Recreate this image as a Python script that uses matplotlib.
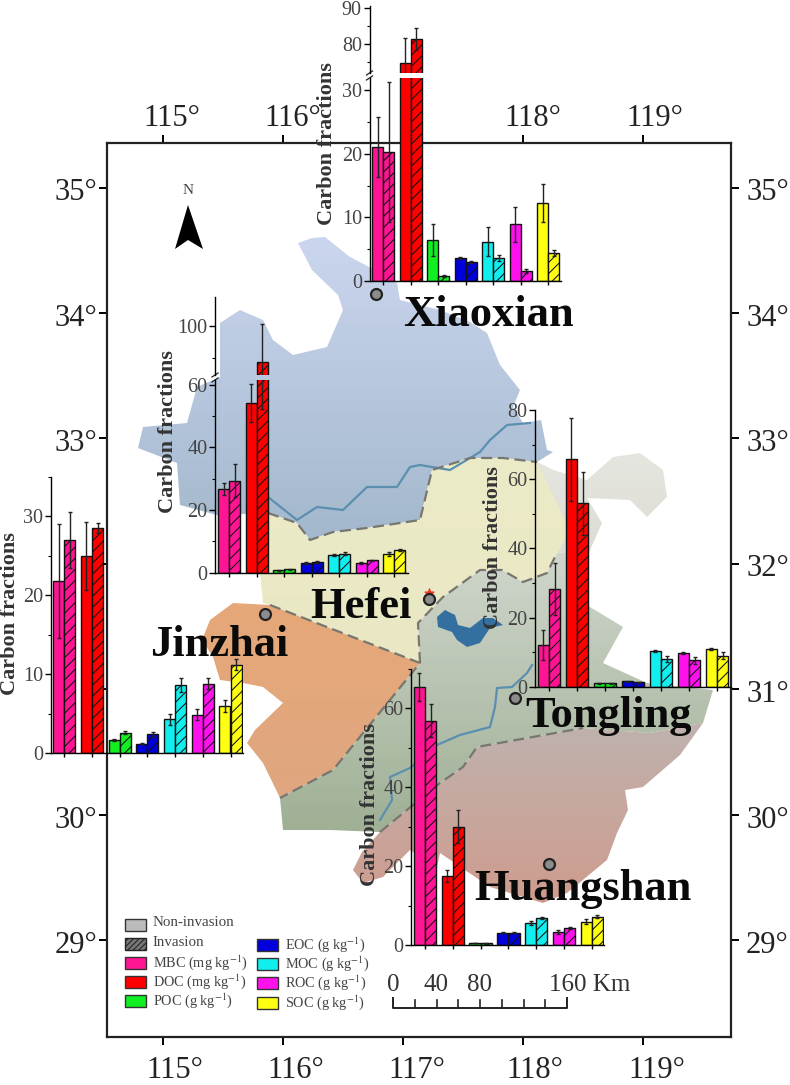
import numpy as np
import matplotlib
matplotlib.use("Agg")
import matplotlib.pyplot as plt
from matplotlib.patches import Polygon, Rectangle
from matplotlib.colors import LinearSegmentedColormap
from matplotlib.ticker import MultipleLocator

plt.rcParams['font.family'] = ['Liberation Serif', 'DejaVu Serif']
plt.rcParams['mathtext.fontset'] = 'stix'
plt.rcParams['hatch.linewidth'] = 0.75

W, H = 790, 1085

fractions = ['MBC', 'DOC', 'POC', 'EOC', 'MOC', 'ROC', 'SOC']
colors = ['#ff1493', '#ff0000', '#11ee22', '#0000dd', '#11eeee', '#ff11ee', '#ffff11']

# values: non-invasion / invasion / error bars
xiaoxian_non = [21.0, 74.8, 6.4, 3.6, 6.2, 8.9, 12.3]
xiaoxian_inv = [20.2, 81.4, 0.8, 3.0, 3.6, 1.6, 4.4]
xiaoxian_non_err = [4.7, 7.0, 2.5, 0.2, 2.3, 2.8, 3.0]
xiaoxian_inv_err = [11.0, 3.0, 0.2, 0.1, 0.5, 0.3, 0.5]

hefei_non = [26.7, 54.2, 0.8, 3.1, 5.6, 3.1, 6.0]
hefei_inv = [29.4, 77.0, 1.1, 3.4, 6.1, 3.9, 7.2]
hefei_non_err = [1.9, 6.0, 0.1, 0.2, 0.4, 0.3, 0.6]
hefei_inv_err = [5.3, 24.7, 0.1, 0.2, 0.4, 0.3, 0.3]

jinzhai_non = [21.8, 25.0, 1.7, 1.2, 4.3, 4.9, 6.0]
jinzhai_inv = [27.0, 28.5, 2.6, 2.4, 8.6, 8.8, 11.2]
jinzhai_non_err = [7.2, 4.3, 0.1, 0.05, 0.7, 0.7, 0.8]
jinzhai_inv_err = [3.5, 0.6, 0.2, 0.3, 0.9, 0.7, 0.7]

tongling_non = [12.0, 65.8, 1.0, 1.6, 10.2, 9.7, 11.0]
tongling_inv = [28.2, 53.0, 1.0, 1.3, 8.0, 7.6, 9.0]
tongling_non_err = [4.4, 12.0, 0.1, 0.1, 0.3, 0.3, 0.3]
tongling_inv_err = [7.5, 9.0, 0.1, 0.1, 1.0, 1.0, 1.0]

huangshan_non = [65.5, 17.5, 0.5, 3.1, 5.5, 3.2, 5.9]
huangshan_inv = [56.9, 30.0, 0.4, 3.1, 6.9, 4.3, 7.2]
huangshan_non_err = [3.5, 1.5, 0.1, 0.1, 0.5, 0.5, 0.6]
huangshan_inv_err = [4.2, 4.2, 0.1, 0.1, 0.3, 0.3, 0.3]

lon_ticks = [115, 116, 117, 118, 119]
lat_ticks = [29, 30, 31, 32, 33, 34, 35]

# map outlines, traced in pixels
north = [(298, 243), (312, 238), (325, 237), (350, 257), (375, 270), (397, 283), (400, 300), (440, 310),
         (470, 322), (487, 333), (500, 365), (520, 390), (513, 407), (523, 423), (541, 420), (547, 450),
         (553, 452), (537, 462), (503, 458), (470, 458), (432, 470), (420, 520), (367, 528), (333, 532),
         (310, 540), (297, 523), (268, 513), (217, 515), (180, 505), (177, 463), (138, 448), (143, 427),
         (187, 423), (197, 387), (220, 377), (220, 323), (240, 310), (263, 320), (273, 340), (293, 355),
         (327, 347), (343, 310), (338, 295), (312, 270)]
hefei_area = [(268, 513), (297, 523), (310, 540), (333, 532), (367, 528), (420, 520),
              (432, 470), (470, 458), (503, 458), (537, 462), (553, 470), (570, 530), (557, 553), (547, 573),
              (523, 582), (502, 570), (480, 570), (443, 597), (418, 623), (420, 663), (270, 605), (263, 603),
              (260, 573), (264, 540)]
east_lobe = [(537, 462), (553, 470), (587, 480), (613, 457), (640, 453), (663, 470), (667, 497), (647, 517),
             (630, 500), (587, 498), (602, 523), (590, 550), (557, 553), (570, 530)]
jinzhai_area = [(202, 640), (210, 620), (233, 603), (270, 605), (420, 663), (333, 770), (280, 798), (263, 763),
                (247, 743), (255, 730), (283, 703), (263, 687), (243, 683), (220, 680), (213, 657)]
tongling_area = [(420, 663), (418, 623), (443, 597), (480, 570), (502, 570), (523, 582), (547, 573), (557, 553),
                 (590, 550), (575, 590), (590, 607), (623, 627), (603, 663), (647, 683), (713, 690), (703, 723),
                 (650, 733), (583, 728), (477, 747), (463, 767), (440, 783), (380, 832), (330, 830), (283, 830),
                 (280, 798), (333, 770)]
huangshan_area = [(380, 832), (440, 783), (463, 767), (477, 747), (583, 728), (650, 733), (703, 723), (680, 755),
                  (643, 787), (625, 790), (628, 810), (617, 833), (607, 860), (567, 893), (543, 903), (490, 887),
                  (440, 853), (437, 867), (410, 850), (383, 877), (363, 883), (353, 870), (362, 852)]
lake = [(437, 617), (445, 610), (455, 615), (458, 625), (470, 628), (483, 618), (493, 618), (503, 625), (490, 628),
        (480, 643), (467, 647), (457, 640), (452, 632), (438, 627)]
yangtze = [(380, 820), (392, 800), (390, 777), (410, 768), (437, 745), (460, 735), (490, 727), (495, 707),
           (497, 688), (512, 687), (527, 673), (532, 665)]
huai = [(268, 497), (297, 520), (317, 507), (343, 510), (367, 487), (397, 487), (410, 467), (420, 465),
        (450, 470), (480, 452), (490, 440), (507, 425), (530, 423)]
dash_lines = [[(268, 513), (297, 523), (310, 540), (333, 532), (367, 528), (420, 520),
               (432, 470), (470, 458), (503, 458), (537, 462)],
              [(270, 605), (420, 663), (333, 770), (280, 798)],
              [(420, 663), (418, 623), (443, 597), (480, 570), (502, 570), (523, 582), (547, 573), (557, 553)],
              [(380, 832), (440, 783), (463, 767), (477, 747), (583, 728)]]


def px_rect(left, top, right, bottom):
    return [left / W, 1 - bottom / H, (right - left) / W, (bottom - top) / H]


fig = plt.figure(figsize=(7.9, 10.85), dpi=100)
bg = fig.add_axes([0, 0, 1, 1], zorder=1)
bg.axis('off')


def region(pts, top_color, bottom_color):
    poly = Polygon(pts, closed=True, facecolor='none', edgecolor='none', transform=bg.transData)
    bg.add_patch(poly)
    ys = [p[1] for p in pts]
    xs = [p[0] for p in pts]
    cmap = LinearSegmentedColormap.from_list('r', [top_color, bottom_color])
    im = bg.imshow(np.linspace(0, 1, 64).reshape(-1, 1), cmap=cmap, aspect='auto',
                   extent=(min(xs), max(xs), max(ys), min(ys)), zorder=1)
    im.set_clip_path(poly)


region(north, '#cbd6ee', '#a3b8cc')
region(hefei_area, '#ecebc8', '#e9e7c4')
region(east_lobe, '#e6e6e0', '#dcdcd4')
region(jinzhai_area, '#e6a878', '#dfa680')
region(tongling_area, '#d0d6cc', '#9fb095')
region(huangshan_area, '#bfb2ae', '#cf9c8e')
bg.add_patch(Polygon(lake, closed=True, facecolor='#336f9f', edgecolor='none', zorder=3))
for river in (yangtze, huai):
    bg.plot(*zip(*river), color='#5b8fb0', lw=1.6, zorder=3)
for line in dash_lines:
    bg.plot(*zip(*line), color='#777770', lw=1.6, ls=(0, (5, 2.5)), zorder=4)
bg.set_xlim(0, W)
bg.set_ylim(H, 0)

# lon/lat frame
frame = fig.add_axes(px_rect(107.3, 142.7, 731, 1037), zorder=2)
frame.patch.set_alpha(0)
frame.set_xlim(114.538, 119.736)
frame.set_ylim(28.231, 35.357)
frame.set_xticks(lon_ticks)
frame.set_yticks(lat_ticks)
frame.tick_params(top=True, right=True, length=6, width=1.4, labelbottom=False, labelleft=False)
for s in frame.spines.values():
    s.set_linewidth(1.6)
    s.set_color('#222222')

txt = fig.add_axes([0, 0, 1, 1], zorder=2.5)
txt.axis('off')
txt.patch.set_alpha(0)
txt.set_xlim(0, W)
txt.set_ylim(H, 0)
top_x = [172, 293, 533, 655]
top_lab = ['115°', '116°', '118°', '119°']
for x, s in zip(top_x, top_lab):
    txt.text(x, 119, s, fontsize=22, color='#222222', ha='center', va='center')
bot_x = [175, 296, 417, 535, 657]
for x, lon in zip(bot_x, lon_ticks):
    txt.text(x, 1071, '%d°' % lon, fontsize=22, color='#222222', ha='center', va='center')
for lat in lat_ticks:
    y = 187.5 + (35 - lat) * 125.5 + 5
    # 31 and 32 on the left sit behind the Jinzhai inset in the source figure
    if lat not in (31, 32):
        txt.text(97, y, '%d°' % lat, fontsize=22, color='#222222', ha='right', va='center')
    txt.text(746, y, '%d°' % lat, fontsize=22, color='#222222', ha='left', va='center')

# north arrow
txt.add_patch(Polygon([(188, 205), (175, 249), (188, 240), (203, 249)], closed=True, facecolor='black', edgecolor='none'))
txt.text(188, 191, 'N', fontsize=11, color='#444444', ha='center', va='center')

# scale bar
txt.plot([393, 393, 567, 567], [998, 1008, 1008, 998], color='#222222', lw=1.4)
for x in np.linspace(393, 567, 9)[1:-1]:
    txt.plot([x, x], [1000, 1008], color='#222222', lw=1.2)
for x, s in zip([393, 436, 479], ['0', '40', '80']):
    txt.text(x, 985, s, fontsize=18, color='#333333', ha='center', va='center')
txt.text(549, 985, '160 Km', fontsize=18, color='#333333', ha='left', va='center')

# legend
txt.add_patch(Rectangle((125, 919), 21, 12, facecolor='#bcbcbc', edgecolor='#333333', lw=1))
txt.text(153, 923, 'Non-invasion', fontsize=10.8, color='#444444', va='center')
txt.add_patch(Rectangle((125, 938), 21, 12, facecolor='#777777', edgecolor='#222222', lw=1, hatch='//////'))
txt.text(153, 943, 'Invasion', fontsize=10.8, color='#444444', va='center')
units = ['mg', 'mg', 'g', 'g', 'g', 'g', 'g']
leg_x = [125, 125, 125, 257, 257, 257, 257]
leg_y = [957, 976, 995, 939, 958, 977, 997]
for name, col, unit, x, y in zip(fractions, colors, units, leg_x, leg_y):
    txt.add_patch(Rectangle((x, y), 21, 12, facecolor=col, edgecolor='#333333', lw=1))
    txt.text(x + 28, y + 6, r'%s (%s kg$^{-1}$)' % (name, unit), fontsize=10.3, color='#444444', va='center')

# site names and dots
site_names = ['Xiaoxian', 'Hefei', 'Jinzhai', 'Tongling', 'Huangshan']
name_x = [488, 361, 219, 609, 583]
name_y = [315, 607, 645, 716, 889]
for s, x, y in zip(site_names, name_x, name_y):
    txt.text(x, y, s, fontsize=32, fontweight='bold', color='#0a0a0a', ha='center', va='center', zorder=6)
dot_x = [376, 265, 429, 515, 549]
dot_y = [294, 614, 599, 698, 864]
txt.scatter(dot_x, dot_y, s=62, c='#8c8c8c', edgecolors='#222222', linewidths=1.6, zorder=6)
txt.scatter([429], [593], s=42, marker='*', c='#ee3322', zorder=5)


def draw_bars(ax, non, inv, non_err, inv_err):
    idx = np.arange(7)
    w = 0.4
    ax.bar(idx - w / 2, non, w, color=colors, edgecolor='#111111', linewidth=1,
           yerr=non_err, error_kw=dict(ecolor='#222222', elinewidth=1, capsize=1.5, capthick=1))
    ax.bar(idx + w / 2, inv, w, color=colors, edgecolor='#111111', linewidth=1, hatch='///',
           yerr=inv_err, error_kw=dict(ecolor='#222222', elinewidth=1, capsize=1.5, capthick=1))


def style_axis(ax, major, minor, show_x=True):
    ax.patch.set_alpha(0)
    ax.spines['top'].set_visible(False)
    ax.spines['right'].set_visible(False)
    ax.yaxis.set_major_locator(MultipleLocator(major))
    ax.yaxis.set_minor_locator(MultipleLocator(minor))
    ax.tick_params(axis='y', which='major', length=4, width=1, labelsize=14.5, labelcolor='#444444', pad=1.5)
    ax.tick_params(axis='y', which='minor', length=2.5, width=0.8)
    ax.spines['left'].set_linewidth(1)
    if show_x:
        ax.spines['bottom'].set_linewidth(1)
        ax.set_xticks(np.arange(7))
        ax.tick_params(axis='x', length=3, width=1, labelbottom=False)
    else:
        ax.spines['bottom'].set_visible(False)
        ax.set_xticks([])


def panel(left, right, tick0, spacing, lower_px, lower_lim, major, minor, non, inv, non_err, inv_err,
          label_x, label_y, upper_px=None, upper_lim=None, upper_ticks=None):
    xlim = (-(tick0 - left) / spacing, (right - tick0) / spacing)
    ax = fig.add_axes(px_rect(left, lower_px[0], right, lower_px[1]), zorder=3)
    draw_bars(ax, non, inv, non_err, inv_err)
    ax.set_xlim(*xlim)
    ax.set_ylim(*lower_lim)
    style_axis(ax, major, minor)
    txt.text(label_x, label_y, 'Carbon fractions', rotation=90, fontsize=16, fontweight='bold',
             color='#333333', ha='center', va='center', zorder=7)
    if upper_px is not None:
        up = fig.add_axes(px_rect(left, upper_px[0], right, upper_px[1]), zorder=3)
        draw_bars(up, non, inv, non_err, inv_err)
        up.set_xlim(*xlim)
        up.set_ylim(*upper_lim)
        style_axis(up, upper_ticks[0], upper_ticks[1], show_x=False)
        up.set_ylim(*upper_lim)
        # break marks on the axis
        for a, yy in ((ax, 1.0), (up, 0.0)):
            bbox_h = a.get_position().height * H
            bbox_w = a.get_position().width * W
            a.plot([-3 / bbox_w, 3 / bbox_w], [yy - 2 / bbox_h, yy + 2 / bbox_h], transform=a.transAxes,
                   color='#222222', lw=0.9, clip_on=False)
    return ax


panel(369.5, 561, 383, 27.5, (78, 281), (0, 31.9), 10, 5,
      xiaoxian_non, xiaoxian_inv, xiaoxian_non_err, xiaoxian_inv_err, 327, 144,
      upper_px=(6, 73), upper_lim=(72, 90.5), upper_ticks=(10, 5))
panel(215, 408, 229, 27.5, (380, 572.7), (0, 61.5), 20, 10,
      hefei_non, hefei_inv, hefei_non_err, hefei_inv_err, 168, 432,
      upper_px=(296.7, 375), upper_lim=(69, 119), upper_ticks=(100, 20))
panel(50.7, 243, 64.3, 27.7, (476.7, 753.3), (0, 35), 10, 5,
      jinzhai_non, jinzhai_inv, jinzhai_non_err, jinzhai_inv_err, 10, 614)
panel(535, 731, 549, 28, (410, 686.7), (0, 80), 20, 10,
      tongling_non, tongling_inv, tongling_non_err, tongling_inv_err, 493, 548)
panel(411, 604, 425, 27.8, (669, 945), (0, 70), 20, 10,
      huangshan_non, huangshan_inv, huangshan_non_err, huangshan_inv_err, 370, 805)

fig.savefig('out.png', dpi=100)
